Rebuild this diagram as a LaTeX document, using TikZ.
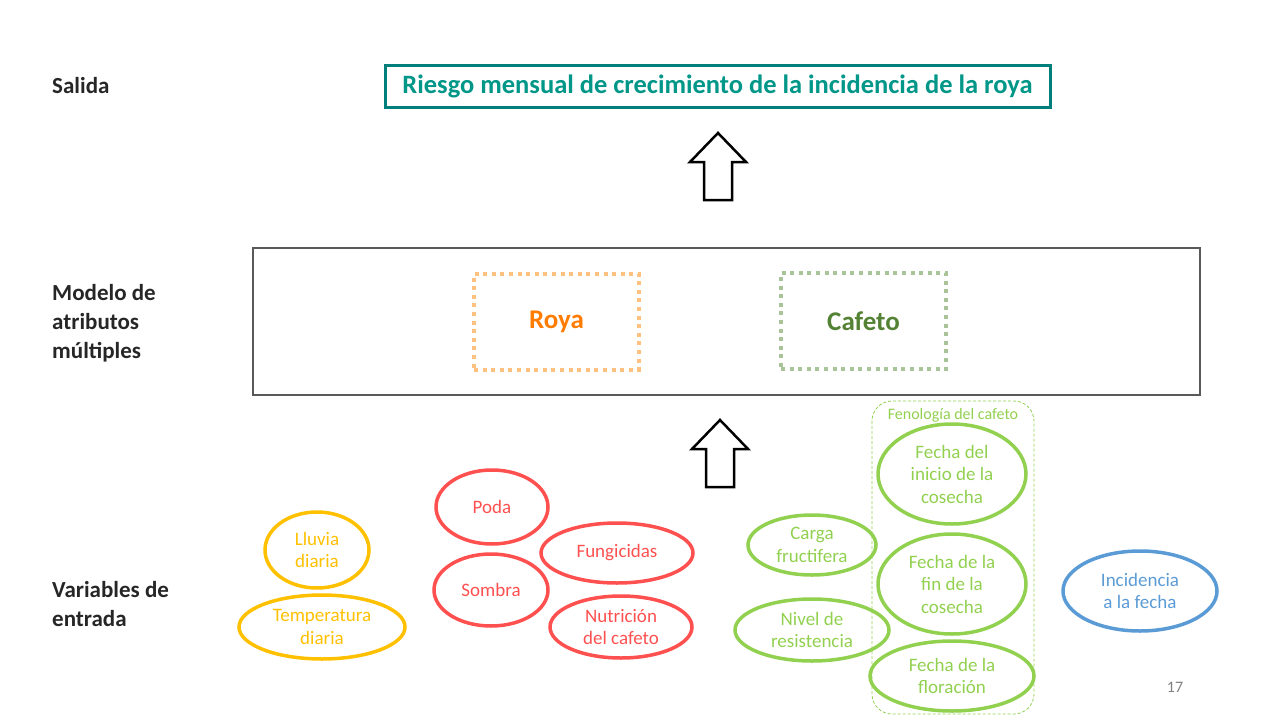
\documentclass[tikz,border=0pt]{standalone}
\usepackage{fontspec}
\setmainfont{Carlito}
\usetikzlibrary{shapes.geometric}
\definecolor{tealline}{RGB}{0,128,124}
\definecolor{tealtext}{RGB}{0,150,136}
\definecolor{boxgray}{RGB}{89,89,89}
\definecolor{labelgray}{RGB}{38,38,38}
\definecolor{royaline}{RGB}{255,192,128}
\definecolor{royatext}{RGB}{255,124,0}
\definecolor{cafetoline}{RGB}{169,196,152}
\definecolor{cafetotext}{RGB}{84,130,53}
\definecolor{cyel}{RGB}{255,192,0}
\definecolor{cred}{RGB}{255,80,80}
\definecolor{cgreen}{RGB}{146,208,80}
\definecolor{cblue}{RGB}{91,155,213}
\def\blockarrow(#1,#2){\draw[line width=2.5pt, fill=white] (#1,#2) -- ++(28,29) -- ++(-14,0) -- ++(0,38) -- ++(-28,0) -- ++(0,-38) -- ++(-14,0) -- cycle;}

\begin{document}
\begin{tikzpicture}[x=1pt, y=-1pt,
	level/.style={font=\fontsize{23}{29}\selectfont\bfseries, text=labelgray, align=left, anchor=west, inner sep=0pt},
	var/.style={ellipse, line width=3.5pt, inner sep=0pt, align=center, font=\fontsize{19}{22.5}\selectfont},
	yel/.style={var, draw=cyel, text=cyel},
	red/.style={var, draw=cred, text=cred},
	grn/.style={var, draw=cgreen, text=cgreen},
	blu/.style={var, draw=cblue, text=cblue},
	dotbox/.style={line width=4pt, dash pattern=on 4pt off 4.6pt, minimum width=165, minimum height=96, font=\fontsize{27}{30}\selectfont\bfseries}]
	%%%%% START %%%%%
	
	\useasboundingbox (0,0) rectangle (1280,720);
	
	\node[level] (salida) at (52,86) {Salida};
	\node[level] (modelo) at (52,323) {Modelo de\\atributos\\múltiples};
	\node[level] (entrada) at (52,604) {Variables de\\entrada};
	
	\node[draw=tealline, line width=3pt, minimum width=665, minimum height=42, text=tealtext, font=\fontsize{26.5}{30}\selectfont\bfseries] (riesgo) at (717.5,86) {Riesgo mensual de crecimiento de la incidencia de la roya};
	
	\blockarrow(718,133)
	
	\node[draw=boxgray, line width=2.5pt, minimum width=947, minimum height=147] (mam) at (726.5,321.5) {};
	\node[dotbox, draw=royaline, text=royatext] (roya) at (556.5,321.5) {Roya};
	\node[dotbox, draw=cafetoline, text=cafetotext] (cafeto) at (863.5,321) {Cafeto};
	
	\blockarrow(720,420)
	
	\draw[cgreen, line width=0.8pt, dash pattern=on 3pt off 2pt, rounded corners=20] (872,401) rectangle (1034,714);
	\node[text=cgreen, font=\fontsize{16}{18}\selectfont] (fenologia) at (953,415) {Fenología del cafeto};
	
	\node[yel, minimum width=104, minimum height=76] (lluvia) at (317,550) {Lluvia\\diaria};
	\node[yel, minimum width=166, minimum height=64] (temp) at (322,627) {Temperatura\\diaria};
	
	\node[red, minimum width=112, minimum height=74] (poda) at (492,507) {Poda};
	\node[red, minimum width=114, minimum height=72] (sombra) at (491,590) {Sombra};
	\node[red, minimum width=152, minimum height=60] (fungi) at (617,553) {Fungicidas};
	\node[red, minimum width=142, minimum height=62] (nutri) at (621,627) {Nutrición\\del cafeto};
	
	\node[grn, minimum width=128, minimum height=60] (carga) at (812,545) {Carga\\fructifera};
	\node[grn, minimum width=154, minimum height=62] (nivel) at (812,630) {Nivel de\\resistencia};
	\node[grn, minimum width=148, minimum height=100] (inicio) at (952,474) {Fecha del\\inicio de la\\cosecha};
	\node[grn, minimum width=148, minimum height=100] (fin) at (952,584) {Fecha de la\\fin de la\\cosecha};
	\node[grn, minimum width=164, minimum height=70] (flor) at (952,676) {Fecha de la\\floración};
	
	\node[blu, minimum width=154, minimum height=80] (incid) at (1140,591) {Incidencia\\a la fecha};
	
	\node[text=gray, font=\fontsize{16}{18}\selectfont] (pagina) at (1175,687) {17};
	
	%%%%% END %%%%%
\end{tikzpicture}
\end{document}
